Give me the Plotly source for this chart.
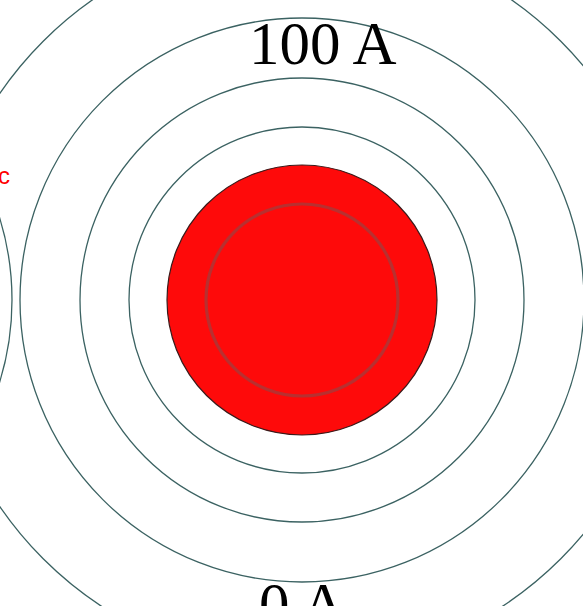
import plotly.graph_objects as go

# Conductor cross-section (drawing units, y grows downward)
wire_center = (302, 300)
conductor_radius = 135
core_radius = 96

# Field lines around the main conductor
field_radii = [173, 222, 282, 366]

# Neighbouring conductor, mostly off to the left
neighbour_center = (-267, 300)
neighbour_radii = [279]

# Labels
top_label = "100 A"
bottom_label = "0 A"
side_label = "c"

W, H = 583, 606
line_color = "#3b6262"

fig = go.Figure()
# invisible trace so the axes exist
fig.add_trace(go.Scatter(x=[0, W], y=[0, H], mode="markers",
                         marker=dict(opacity=0), hoverinfo="skip", showlegend=False))

shapes = []


def circle(c, r, **kw):
    return dict(type="circle", xref="x", yref="y",
                x0=c[0] - r, x1=c[0] + r, y0=c[1] - r, y1=c[1] + r, **kw)


for r in field_radii:
    shapes.append(circle(wire_center, r, line=dict(color=line_color, width=1.3)))
for r in neighbour_radii:
    shapes.append(circle(neighbour_center, r, line=dict(color=line_color, width=1.3)))

shapes.append(circle(wire_center, conductor_radius, fillcolor="#fe0a0a",
                     line=dict(color="#3a1a1a", width=1.2), layer="above"))
shapes.append(circle(wire_center, core_radius,
                     line=dict(color="#b83030", width=3.2), layer="above"))

fig.update_layout(shapes=shapes)

fig.add_annotation(x=322, y=43, text=top_label, showarrow=False,
                   xanchor="center", yanchor="middle",
                   font=dict(family="Liberation Serif", size=61, color="black"))
fig.add_annotation(x=302, y=604, text=bottom_label, showarrow=False,
                   xanchor="center", yanchor="middle",
                   font=dict(family="Liberation Serif", size=61, color="black"))
fig.add_annotation(x=12, y=175, text=side_label, showarrow=False,
                   xanchor="right", yanchor="middle",
                   font=dict(family="Liberation Sans", size=24, color="#ff0000"))

fig.update_xaxes(range=[0, W], visible=False, showgrid=False, zeroline=False)
fig.update_yaxes(range=[H, 0], visible=False, showgrid=False, zeroline=False)
fig.update_layout(width=W, height=H, margin=dict(l=0, r=0, t=0, b=0),
                  paper_bgcolor="white", plot_bgcolor="white", showlegend=False)

fig.write_html("out.html", config={"displayModeBar": False})
